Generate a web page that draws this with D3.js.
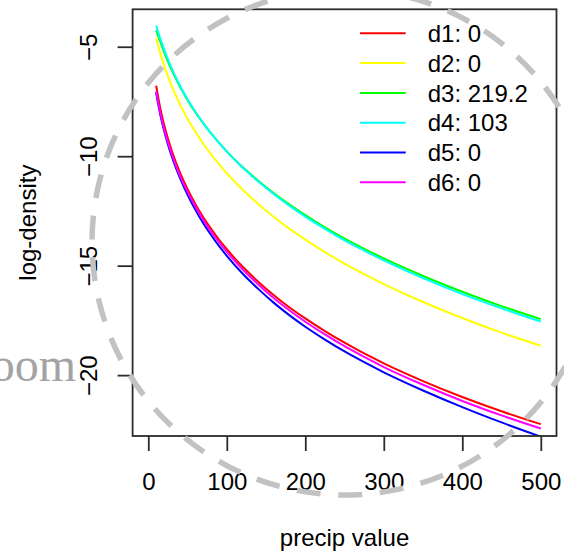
<!DOCTYPE html>
<html>
<head>
<meta charset="utf-8">
<script src="https://d3js.org/d3.v7.min.js"></script>
<style>
  html, body { margin: 0; padding: 0; background: #fff; }
  svg { display: block; }
  text { font-family: "Liberation Sans", Arial, Helvetica, sans-serif; fill: #000; }
</style>
</head>
<body>
<svg id="chart" width="564" height="557"></svg>
<script>
// ---- data ----
const precip = [10, 15, 20, 25, 30, 40, 50, 60, 70, 80, 90, 100, 120, 140, 160, 180, 200, 225, 250, 275, 300, 350, 400, 450, 500];
const dens1 = [-6.78, -7.76, -8.54, -9.19, -9.76, -10.72, -11.51, -12.19, -12.79, -13.32, -13.81, -14.25, -15.04, -15.73, -16.35, -16.91, -17.41, -17.99, -18.52, -19.01, -19.46, -20.27, -21.00, -21.65, -22.24];
const dens2 = [-4.62, -5.27, -5.84, -6.35, -6.81, -7.61, -8.29, -8.89, -9.43, -9.92, -10.36, -10.78, -11.52, -12.18, -12.78, -13.32, -13.81, -14.38, -14.91, -15.39, -15.84, -16.66, -17.39, -18.06, -18.66];
const dens3 = [-4.24, -4.75, -5.23, -5.68, -6.08, -6.81, -7.44, -8.00, -8.50, -8.96, -9.38, -9.78, -10.49, -11.12, -11.69, -12.21, -12.69, -13.25, -13.76, -14.23, -14.67, -15.47, -16.19, -16.85, -17.44];
const dens4 = [-4.03, -4.59, -5.10, -5.57, -6.00, -6.75, -7.40, -7.97, -8.49, -8.96, -9.39, -9.79, -10.52, -11.16, -11.74, -12.27, -12.76, -13.32, -13.84, -14.31, -14.76, -15.57, -16.30, -16.95, -17.55];
const dens5 = [-7.10, -8.06, -8.82, -9.46, -10.02, -10.97, -11.76, -12.45, -13.06, -13.60, -14.10, -14.55, -15.36, -16.06, -16.70, -17.27, -17.79, -18.38, -18.92, -19.41, -19.87, -20.70, -21.46, -22.16, -22.81];
const dens6 = [-7.03, -7.98, -8.74, -9.37, -9.92, -10.86, -11.63, -12.31, -12.91, -13.44, -13.93, -14.37, -15.17, -15.86, -16.49, -17.05, -17.56, -18.14, -18.68, -19.17, -19.63, -20.44, -21.18, -21.84, -22.44];
const seriesNames = ["d1", "d2", "d3", "d4", "d5", "d6"];
const seriesValues = [0, 0, 219.2, 103, 0, 0];
const seriesColors = ["#ff0000", "#ffff00", "#00ff00", "#00ffff", "#0000ff", "#ff00ff"];
const xTicks = [0, 100, 200, 300, 400, 500];
const yTicks = [-20, -15, -10, -5];
const xDomain = [-20, 520];
const yDomain = [-22.78, -3.29];
const xTitle = "precip value";
const yTitle = "log-density";
const overlayText = "Zoom";

// ---- layout ----
const plot = { left: 132.6, top: 9.3, right: 556.5, bottom: 436 };
const FS = "24px";
const svg = d3.select("#chart");

const x = d3.scaleLinear().domain(xDomain).range([plot.left, plot.right]);
const y = d3.scaleLinear().domain(yDomain).range([plot.bottom, plot.top]);

svg.append("defs").append("clipPath").attr("id", "plotclip")
  .append("rect")
  .attr("x", plot.left).attr("y", plot.top)
  .attr("width", plot.right - plot.left).attr("height", plot.bottom - plot.top);

// lines
const allSeries = [dens1, dens2, dens3, dens4, dens5, dens6];
const line = d3.line()
  .x((d, i) => x(precip[i]))
  .y(d => y(d))
  .curve(d3.curveMonotoneX);

const lines = svg.append("g").attr("clip-path", "url(#plotclip)");
allSeries.forEach((s, k) => {
  lines.append("path")
    .attr("d", line(s))
    .attr("fill", "none")
    .attr("stroke", seriesColors[k])
    .attr("stroke-width", 2);
});

// box
svg.append("rect")
  .attr("x", plot.left).attr("y", plot.top)
  .attr("width", plot.right - plot.left).attr("height", plot.bottom - plot.top)
  .attr("fill", "none").attr("stroke", "#2b2b2b").attr("stroke-width", 1.8);

// x axis
const gx = svg.append("g")
  .attr("transform", `translate(0,${plot.bottom})`)
  .call(d3.axisBottom(x).tickValues(xTicks).tickSize(15).tickFormat(d3.format("d")));
gx.select(".domain").remove();
gx.attr("font-family", null).attr("font-size", null);
gx.selectAll(".tick line").attr("stroke", "#2b2b2b").attr("stroke-width", 1.8);
gx.selectAll(".tick text")
  .attr("y", 54).attr("dy", null)
  .style("font-size", FS).style("fill", "#000");

// y axis
const gy = svg.append("g")
  .attr("transform", `translate(${plot.left},0)`)
  .call(d3.axisLeft(y).tickValues(yTicks).tickSize(15).tickFormat(d => d3.format("d")(d).replace("-", "\u2212")));
gy.select(".domain").remove();
gy.attr("font-family", null).attr("font-size", null);
gy.selectAll(".tick line").attr("stroke", "#2b2b2b").attr("stroke-width", 1.8);
gy.selectAll(".tick text")
  .attr("x", null).attr("dy", null)
  .attr("text-anchor", "middle")
  .attr("transform", `translate(${96.8 - plot.left},0) rotate(-90)`)
  .style("font-size", FS).style("fill", "#000");

// axis titles
svg.append("text")
  .attr("x", (plot.left + plot.right) / 2).attr("y", 546)
  .attr("text-anchor", "middle")
  .style("font-size", FS)
  .text(xTitle);
svg.append("text")
  .attr("transform", `translate(36,${(plot.top + plot.bottom) / 2}) rotate(-90)`)
  .attr("text-anchor", "middle")
  .style("font-size", FS)
  .text(yTitle);

// legend
const legend = svg.append("g");
seriesNames.forEach((name, i) => {
  const ry = 33.3 + i * 29.8;
  legend.append("line")
    .attr("x1", 360).attr("x2", 405.7)
    .attr("y1", ry).attr("y2", ry)
    .attr("stroke", seriesColors[i]).attr("stroke-width", 2);
  legend.append("text")
    .attr("x", 427.7).attr("y", ry + 8.6)
    .style("font-size", FS)
    .text(`${name}: ${seriesValues[i]}`);
});

// overlay: zoom annotation
svg.append("text")
  .attr("x", 76).attr("y", 381)
  .attr("text-anchor", "end")
  .style("font-family", "'Liberation Serif', 'Times New Roman', serif")
  .style("font-size", "48px")
  .style("fill", "#a3a3a3")
  .text(overlayText);

svg.append("circle")
  .attr("cx", 345).attr("cy", 242).attr("r", 253)
  .attr("fill", "none")
  .attr("stroke", "#c2c2c2")
  .attr("stroke-width", 5.5)
  .attr("stroke-dasharray", "24 17.7")
  .attr("stroke-dashoffset", 37);
</script>
</body>
</html>
